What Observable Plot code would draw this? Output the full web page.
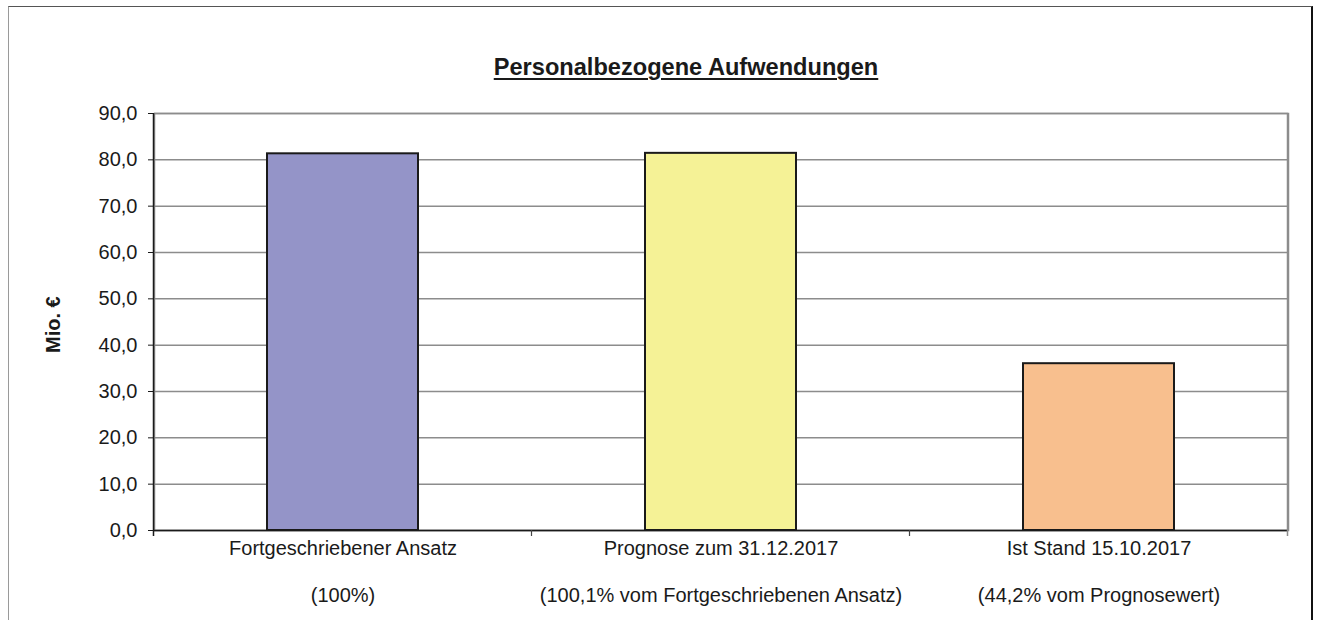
<!DOCTYPE html>
<html>
<head>
<meta charset="utf-8">
<script src="https://cdn.jsdelivr.net/npm/d3@7"></script>
<script src="https://cdn.jsdelivr.net/npm/@observablehq/plot@0.6"></script>
<style>
  html, body { margin: 0; padding: 0; background: #fff; overflow: hidden; }
  #wrap { position: relative; width: 1319px; height: 620px; overflow: hidden; font-family: "Liberation Sans", Arial, sans-serif; }
  #border { position: absolute; left: 8px; top: 6px; width: 1305px; height: 700px;
            border-top: 1px solid #555; border-left: 1px solid #9a9a9a; border-right: 2px solid #111; box-sizing: border-box; }
  #title { position: absolute; left: 686px; top: 55px; transform: translateX(-50%); white-space: nowrap;
           font-size: 23.6px; line-height: 24px; font-weight: bold; color: #1a1a1a;
           text-decoration: underline; text-decoration-thickness: 2px; text-underline-offset: 3px; }
  #chart { position: absolute; left: 0; top: 0; }
</style>
</head>
<body>
<div id="wrap">
  <div id="border"></div>
  <div id="chart"></div>
  <div id="title">Personalbezogene Aufwendungen</div>
</div>
<script>
const categories = ["Fortgeschriebener Ansatz", "Prognose zum 31.12.2017", "Ist Stand 15.10.2017"];
const subLabels = ["(100%)", "(100,1% vom Fortgeschriebenen Ansatz)", "(44,2% vom Prognosewert)"];
const values = [81.3, 81.4, 36.0];
const yTicks = [0, 10, 20, 30, 40, 50, 60, 70, 80, 90];
const yTickLabels = ["0,0", "10,0", "20,0", "30,0", "40,0", "50,0", "60,0", "70,0", "80,0", "90,0"];
const barColors = ["#9494c8", "#f5f296", "#f8bf8e"];
const yLabel = "Mio. €";

const data = categories.map((c, i) => ({cat: c, value: values[i], sub: subLabels[i]}));
const padInner = 0.6;

function boundaries(index, scales, values, dims) {
  const x = scales.x, y = scales.y;
  const bw = typeof x.bandwidth === "function" ? x.bandwidth() : x.bandwidth;
  const step = typeof x.step === "function" ? x.step() : bw / (1 - padInner);
  const gap = (step - bw) / 2;
  const y0 = y(0), yTop = y(yTicks[yTicks.length - 1]);
  const xs = categories.map(c => x(c) - gap);
  xs.push(x(categories[categories.length - 1]) + bw + gap);
  const g = d3.create("svg:g");
  xs.forEach((xx, i) => {
    const last = i === xs.length - 1;
    g.append("line")
      .attr("x1", xx).attr("x2", xx)
      .attr("y1", i === 0 ? yTop : (last ? yTop : y0)).attr("y2", y0 + 6)
      .attr("stroke", i === 0 ? "#1a1a1a" : (last ? "#8c8c8c" : "#444"))
      .attr("stroke-width", i === 0 ? 1.5 : (last ? 1.5 : 1.2));
  });
  return g.node();
}

const plot = Plot.plot({
  width: 1319,
  height: 620,
  marginTop: 113,
  marginBottom: 90,
  marginLeft: 154,
  marginRight: 31,
  style: {fontFamily: "Liberation Sans, Arial, sans-serif", fontSize: "20px", color: "#1a1a1a", background: "transparent"},
  x: {type: "band", domain: categories, paddingInner: padInner, paddingOuter: 0.3, axis: null},
  y: {domain: [0, 90], axis: null},
  color: {domain: categories, range: barColors},
  marks: [
    Plot.frame({stroke: "#8c8c8c", strokeWidth: 1.5}),
    Plot.gridY(yTicks, {stroke: "#8c8c8c", strokeOpacity: 1, strokeWidth: 1.5}),
    Plot.barY(data, {x: "cat", y: "value", fill: "cat", stroke: "#1a1a1a", strokeWidth: 2}),
    Plot.ruleY([0], {stroke: "#1a1a1a", strokeWidth: 1.5}),
    boundaries,
    Plot.axisY({ticks: yTicks, tickFormat: d => yTickLabels[yTicks.indexOf(d)], tickSize: 6, tickPadding: 11, stroke: "#1a1a1a", fill: "#1a1a1a", label: null}),
    Plot.text(data, {x: "cat", text: "cat", frameAnchor: "bottom", dy: 24, fill: "#1a1a1a"}),
    Plot.text(data, {x: "cat", text: "sub", frameAnchor: "bottom", dy: 71, fill: "#1a1a1a"}),
    Plot.text([yLabel], {text: d => d, frameAnchor: "left", rotate: -90, dx: -101, dy: 31, fontWeight: "bold", fontSize: 20, fill: "#1a1a1a"})
  ]
});
document.getElementById("chart").appendChild(plot);
</script>
</body>
</html>
